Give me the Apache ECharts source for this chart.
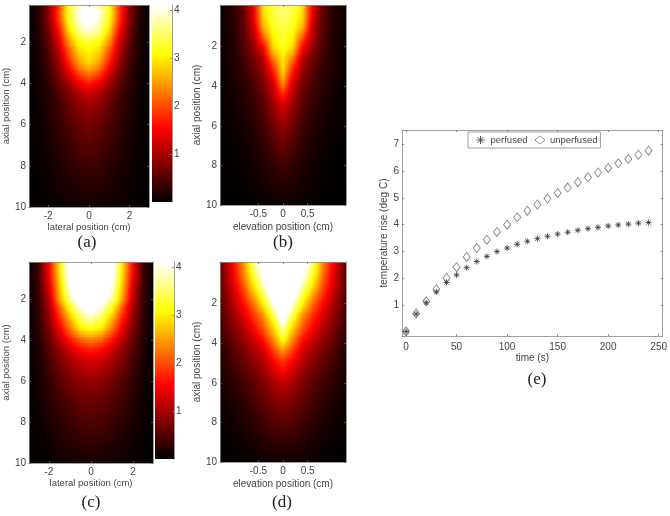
<!DOCTYPE html>
<html><head><meta charset="utf-8">
<style>html,body{margin:0;padding:0;background:#fff}#c{width:670px;height:516px;filter:blur(0.5px)}</style>
<script src="https://cdn.jsdelivr.net/npm/echarts@6/dist/echarts.min.js"></script>
</head><body><div id="c"></div>
<script>
// ---------- data ----------
const lateralPos = [-2.94,-2.5,-2,-1.5,-1,-0.5,0,0.5,1,1.5,2,2.5,2.94];
const elevationPos = [-1.28,-1,-0.8,-0.6,-0.4,-0.2,0,0.2,0.4,0.6,0.8,1,1.28];
const axialA = [0.2,0.5,1,1.5,2,2.5,3,3.5,4,4.5,5,6,7,8,9,10];
const axialB = [-0.1,0.5,1,1.5,2,2.5,3,3.5,4,4.5,5,6,7,8,9,10];
const heatA = [
[.03,.2,.75,1.8,3.2,3.8,4.0,3.8,3.2,1.8,.75,.2,.03],
[.03,.2,.8,1.9,3.2,4.0,4.3,4.0,3.2,1.9,.8,.2,.03],
[.03,.2,.75,1.8,3.1,3.9,4.3,3.9,3.1,1.8,.75,.2,.03],
[.03,.17,.65,1.5,2.8,3.6,3.9,3.6,2.8,1.5,.65,.17,.03],
[.03,.15,.55,1.25,2.4,3.1,3.3,3.1,2.4,1.25,.55,.15,.03],
[.03,.13,.45,1.05,2.0,2.8,3.0,2.8,2.0,1.05,.45,.13,.03],
[.03,.12,.4,.9,1.7,2.5,2.9,2.5,1.7,.9,.4,.12,.03],
[.03,.1,.33,.72,1.3,2.0,2.3,2.0,1.3,.72,.33,.1,.03],
[.02,.09,.28,.58,1.0,1.45,1.7,1.45,1.0,.58,.28,.09,.02],
[.02,.07,.22,.45,.75,1.05,1.25,1.05,.75,.45,.22,.07,.02],
[.02,.07,.2,.38,.62,.85,1.0,.85,.62,.38,.2,.07,.02],
[.02,.06,.16,.3,.47,.62,.72,.62,.47,.3,.16,.06,.02],
[.02,.05,.13,.23,.35,.46,.52,.46,.35,.23,.13,.05,.02],
[.01,.04,.1,.17,.26,.33,.38,.33,.26,.17,.1,.04,.01],
[.01,.03,.07,.12,.17,.22,.25,.22,.17,.12,.07,.03,.01],
[.01,.02,.04,.06,.08,.1,.12,.1,.08,.06,.04,.02,.01]];
const heatB = [
[.05,.25,.6,1.4,2.9,3.4,3.6,3.4,2.9,1.4,.6,.25,.05],
[.05,.25,.6,1.35,2.8,3.3,3.5,3.3,2.8,1.35,.6,.25,.05],
[.05,.24,.55,1.2,2.6,3.2,3.4,3.2,2.6,1.2,.55,.24,.05],
[.05,.22,.5,1.05,2.1,3.0,3.3,3.0,2.1,1.05,.5,.22,.05],
[.05,.22,.48,.88,1.55,2.85,3.2,2.85,1.55,.88,.48,.22,.05],
[.04,.2,.42,.72,1.2,2.4,3.0,2.4,1.2,.72,.42,.2,.04],
[.04,.18,.36,.6,.98,1.9,2.9,1.9,.98,.6,.36,.18,.04],
[.03,.16,.3,.5,.82,1.5,2.7,1.5,.82,.5,.3,.16,.03],
[.03,.14,.26,.42,.7,1.2,2.3,1.2,.7,.42,.26,.14,.03],
[.03,.12,.22,.36,.6,1.05,1.7,1.05,.6,.36,.22,.12,.03],
[.02,.1,.18,.3,.52,.9,1.3,.9,.52,.3,.18,.1,.02],
[.02,.07,.13,.22,.38,.65,.9,.65,.38,.22,.13,.07,.02],
[.01,.05,.09,.16,.28,.47,.62,.47,.28,.16,.09,.05,.01],
[.01,.03,.06,.12,.2,.3,.4,.3,.2,.12,.06,.03,.01],
[.01,.02,.04,.07,.12,.18,.22,.18,.12,.07,.04,.02,.01],
[0,.01,.02,.03,.05,.07,.08,.07,.05,.03,.02,.01,0]];
const heatC = [
[.06,.35,1.5,2.9,4.4,5.2,5.5,5.2,4.4,2.9,1.5,.35,.06],
[.06,.35,1.5,2.9,4.4,5.4,5.8,5.4,4.4,2.9,1.5,.35,.06],
[.06,.35,1.4,2.8,4.3,5.4,5.8,5.4,4.3,2.8,1.4,.35,.06],
[.06,.32,1.25,2.65,4.0,5.0,5.4,5.0,4.0,2.65,1.25,.32,.06],
[.06,.3,1.1,2.5,3.7,4.5,5.0,4.5,3.7,2.5,1.1,.3,.06],
[.05,.27,.95,2.0,3.1,3.9,4.3,3.9,3.1,2.0,.95,.27,.05],
[.05,.25,.85,1.7,2.6,3.4,3.75,3.4,2.6,1.7,.85,.25,.05],
[.05,.22,.72,1.4,2.2,2.9,3.1,2.9,2.2,1.4,.72,.22,.05],
[.05,.2,.6,1.1,1.65,2.1,2.3,2.1,1.65,1.1,.6,.2,.05],
[.04,.17,.5,.88,1.25,1.55,1.7,1.55,1.25,.88,.5,.17,.04],
[.04,.15,.42,.72,1.0,1.2,1.3,1.2,1.0,.72,.42,.15,.04],
[.03,.12,.3,.5,.7,.85,.9,.85,.7,.5,.3,.12,.03],
[.03,.09,.22,.37,.5,.6,.65,.6,.5,.37,.22,.09,.03],
[.02,.07,.16,.26,.35,.43,.48,.43,.35,.26,.16,.07,.02],
[.02,.05,.1,.17,.23,.28,.32,.28,.23,.17,.1,.05,.02],
[.01,.03,.05,.08,.1,.13,.15,.13,.1,.08,.05,.03,.01]];
const heatD = [
[.6,1.6,2.4,3.6,4.6,5,5.2,5,4.6,3.6,2.4,1.6,.6],
[.55,1.5,2.3,3.3,4.2,5,5.4,5,4.2,3.3,2.3,1.5,.55],
[.55,1.4,2.1,3.0,3.9,5,5.4,5,3.9,3.0,2.1,1.4,.55],
[.5,1.25,1.85,2.6,3.4,4.5,5.3,4.5,3.4,2.6,1.85,1.25,.5],
[.45,1.1,1.6,2.2,3.0,4.0,5.0,4.0,3.0,2.2,1.6,1.1,.45],
[.4,.95,1.4,1.9,2.5,3.5,4.6,3.5,2.5,1.9,1.4,.95,.4],
[.36,.85,1.2,1.65,2.2,3.0,4.1,3.0,2.2,1.65,1.2,.85,.36],
[.3,.72,1.0,1.4,1.9,2.6,3.5,2.6,1.9,1.4,1.0,.72,.3],
[.25,.6,.85,1.15,1.5,2.2,3.0,2.2,1.5,1.15,.85,.6,.25],
[.2,.5,.7,.95,1.25,1.8,2.3,1.8,1.25,.95,.7,.5,.2],
[.17,.42,.6,.8,1.05,1.45,1.8,1.45,1.05,.8,.6,.42,.17],
[.11,.28,.4,.55,.75,1.0,1.15,1.0,.75,.55,.4,.28,.11],
[.07,.18,.28,.4,.55,.72,.8,.72,.55,.4,.28,.18,.07],
[.04,.11,.18,.27,.38,.5,.55,.5,.38,.27,.18,.11,.04],
[.02,.05,.09,.15,.22,.28,.3,.28,.22,.15,.09,.05,.02],
[.01,.02,.03,.05,.07,.09,.1,.09,.07,.05,.03,.02,.01]];
const timeS = [0,10,20,30,40,50,60,70,80,90,100,110,120,130,140,150,160,170,180,190,200,210,220,230,240];
const perfused = [.03,.68,1.1,1.5,1.85,2.13,2.4,2.63,2.82,3.0,3.13,3.27,3.38,3.48,3.57,3.65,3.72,3.79,3.85,3.9,3.95,3.99,4.02,4.06,4.08];
const unperfused = [.03,.7,1.15,1.6,2.02,2.42,2.8,3.13,3.44,3.73,4.0,4.27,4.52,4.75,4.97,5.18,5.38,5.58,5.76,5.94,6.11,6.28,6.44,6.6,6.75];
const colorbarTicks = [1,2,3,4];
const colorMax = 4.1;
const captions = ['(a)','(b)','(c)','(d)','(e)'];

// ---------- drawing ----------
const clamp = v => Math.max(0, Math.min(1, v));
function hot(v){
  const t = clamp(v/colorMax);
  const r = Math.round(255*clamp(t/.375)), g = Math.round(255*clamp((t-.375)/.375)), b = Math.round(255*clamp((t-.75)/.25));
  return `rgb(${r},${g},${b})`;
}
const FONT = '"Liberation Sans"';
const txt = '#444', line = '#888';
function axes(i, cfg){
  const tickX = {show:true, inside:true, length:2, lineStyle:{color:'#666',width:.7}, customValues:cfg.xTicks};
  const tickY = {show:true, inside:true, length:2, lineStyle:{color:'#666',width:.7}, customValues:cfg.yTicks};
  return {
    x:[{gridIndex:i,type:'value',position:'bottom',min:cfg.x[0],max:cfg.x[1],z:5,splitLine:{show:false},
        axisLine:{show:true,onZero:false,lineStyle:{color:line,width:.8}},axisTick:tickX,
        axisLabel:{customValues:cfg.xTicks,hideOverlap:false,showMinLabel:true,showMaxLabel:true,color:txt,fontFamily:FONT,fontSize:10,margin:cfg.xMargin||4},
        name:cfg.xName,nameLocation:'middle',nameGap:cfg.xGap,nameTextStyle:{color:txt,fontFamily:FONT,fontSize:cfg.nameSize||9.5}},
       {gridIndex:i,type:'value',position:'top',min:cfg.x[0],max:cfg.x[1],z:5,splitLine:{show:false},
        axisLine:{show:true,onZero:false,lineStyle:{color:line,width:.8}},axisTick:tickX,axisLabel:{show:false}}],
    y:[{gridIndex:i,type:'value',position:'left',inverse:!!cfg.inverse,min:cfg.y[0],max:cfg.y[1],z:5,splitLine:{show:false},
        axisLine:{show:true,onZero:false,lineStyle:{color:line,width:.8}},axisTick:tickY,
        axisLabel:{customValues:cfg.yTicks,color:txt,fontFamily:FONT,fontSize:10,margin:cfg.yMargin||3},
        name:cfg.yName,nameLocation:'middle',nameGap:cfg.yGap,nameRotate:90,nameTextStyle:{color:txt,fontFamily:FONT,fontSize:cfg.nameSize||9.5}},
       {gridIndex:i,type:'value',position:'right',inverse:!!cfg.inverse,min:cfg.y[0],max:cfg.y[1],z:5,splitLine:{show:false},
        axisLine:{show:true,onZero:false,lineStyle:{color:line,width:.8}},axisTick:tickY,axisLabel:{show:false}}]
  };
}
// one image panel: horizontal gradient strips, colours taken from the read value table
function heatSeries(xi, yi, xPos, axial, table){
  const x0 = xPos[0], x1 = xPos[xPos.length-1];
  return {
    type:'custom', xAxisIndex:xi, yAxisIndex:yi, coordinateSystem:'cartesian2d', clip:true, silent:true, animation:false,
    data: axial.slice(0,-1).map((a,i)=>[a,axial[i+1],i]),
    renderItem(params, api){
      const i = api.value(2), top = api.value(0), bot = api.value(1);
      const pTop = api.coord([x0,top]), pBot = api.coord([x1,bot]);
      const h = pBot[1]-pTop[1], n = Math.max(1,Math.ceil(h/2)), kids = [];
      for(let s=0;s<n;s++){
        const t = (s+.5)/n, stops = [];
        for(let j=0;j<xPos.length-1;j++){
          const sub = 4;
          for(let k=0;k<=sub;k++){
            if(k===sub && j<xPos.length-2) continue;
            const u = k/sub;
            const a = table[i][j]+(table[i][j+1]-table[i][j])*u;
            const b = table[i+1][j]+(table[i+1][j+1]-table[i+1][j])*u;
            stops.push({offset:(xPos[j]+(xPos[j+1]-xPos[j])*u-x0)/(x1-x0), color:hot(a+(b-a)*t)});
          }
        }
        const yA = Math.round(pTop[1]+h*s/n), yB = Math.round(pTop[1]+h*(s+1)/n);
        kids.push({type:'rect',shape:{x:Math.round(pTop[0]),y:yA,width:Math.round(pBot[0])-Math.round(pTop[0]),height:yB-yA+1},
          style:{fill:new echarts.graphic.LinearGradient(0,0,1,0,stops)}});
      }
      return {type:'group',children:kids};
    }
  };
}
function barSeries(xi, yi){
  return {
    type:'custom', xAxisIndex:xi, yAxisIndex:yi, coordinateSystem:'cartesian2d', silent:true, animation:false,
    data:[[0,1,0,colorMax]],
    renderItem(params, api){
      const a = api.coord([api.value(0),api.value(3)]), b = api.coord([api.value(1),api.value(2)]);
      const stops = [0,1.5375,3.075,4.1].map(v=>({offset:1-v/colorMax,color:hot(v)}));
      return {type:'rect',shape:{x:a[0],y:a[1],width:b[0]-a[0],height:b[1]-a[1]},
        style:{fill:new echarts.graphic.LinearGradient(0,0,0,1,stops)}};
    }
  };
}
const panels = [
 {g:[26,5,123,202],  c:{x:[-2.94,2.95],xTicks:[-2,0,2],y:[0.2,10],yTicks:[2,4,6,8,10],inverse:true,xName:'lateral position (cm)',xGap:14,yName:'axial position (cm)',yGap:13}, xp:lateralPos,ax:axialA,t:heatA},
 {g:[220,5,126,200], c:{x:[-1.28,1.28],xTicks:[-0.5,0,0.5],y:[-0.1,10],yTicks:[2,4,6,8,10],inverse:true,xName:'elevation position (cm)',xGap:17,nameSize:10,yName:'axial position (cm)',yGap:13}, xp:elevationPos,ax:axialB,t:heatB},
 {g:[29,262,124,201],c:{x:[-2.94,2.95],xTicks:[-2,0,2],y:[0.2,10],yTicks:[2,4,6,8,10],inverse:true,xName:'lateral position (cm)',xGap:14,yName:'axial position (cm)',yGap:13}, xp:lateralPos,ax:axialA,t:heatC},
 {g:[220,262,126,200],c:{x:[-1.28,1.28],xTicks:[-0.5,0,0.5],y:[-0.1,10],yTicks:[2,4,6,8,10],inverse:true,xName:'elevation position (cm)',xGap:17,nameSize:10,yName:'axial position (cm)',yGap:13}, xp:elevationPos,ax:axialB,t:heatD}
];
const grid=[], xAxis=[], yAxis=[], series=[];
function addAxes(g,c){ const i=grid.length; grid.push({left:g[0],top:g[1],width:g[2],height:g[3]}); const a=axes(i,c); xAxis.push(...a.x); yAxis.push(...a.y); return [xAxis.length-2,yAxis.length-2]; }
panels.forEach(p=>{ const [xi,yi]=addAxes(p.g,p.c); series.push(heatSeries(xi,yi,p.xp,p.ax,p.t)); });
// colour bars
[[152,5,20,197],[155,262,19,197]].forEach(g=>{
  const i=grid.length; grid.push({left:g[0],top:g[1],width:g[2],height:g[3]});
  xAxis.push({gridIndex:i,type:'value',min:0,max:1,show:false});
  yAxis.push({gridIndex:i,type:'value',position:'right',min:0,max:colorMax,z:5,splitLine:{show:false},
    axisLine:{show:true,onZero:false,lineStyle:{color:'#999',width:1}},
    axisTick:{show:true,inside:true,length:2,customValues:colorbarTicks,lineStyle:{color:'#777',width:.7}},
    axisLabel:{customValues:colorbarTicks,color:txt,fontFamily:FONT,fontSize:10,margin:2}});
  series.push(barSeries(xAxis.length-1,yAxis.length-1));
});
// scatter panel
const [ex,ey]=addAxes([402,130,262,206],{x:[-4,254],xTicks:[0,50,100,150,200,250],y:[-0.14,7.52],yTicks:[1,2,3,4,5,6,7],xName:'time (s)',xGap:17,nameSize:10,xMargin:6,yName:'temperature rise (deg C)',yGap:5,yMargin:3});
const asterisk='path://M50 0L50 100M0 50L100 50M14 14L86 86M86 14L14 86';
series.push({name:'unperfused',type:'scatter',xAxisIndex:ex,yAxisIndex:ey,z:3,animation:false,symbol:'diamond',symbolSize:[7,9],
  data:timeS.map((t,i)=>[t,unperfused[i]]),itemStyle:{color:'#fff',borderColor:'#666',borderWidth:.9}});
series.push({name:'perfused',type:'scatter',xAxisIndex:ex,yAxisIndex:ey,z:4,animation:false,symbol:asterisk,symbolSize:6,
  data:timeS.map((t,i)=>[t,perfused[i]]),itemStyle:{color:'#333',borderColor:'#333',borderWidth:1}});
const capPos=[[87,243],[283,243],[91,503],[282,503],[537,380]];
const chart=echarts.init(document.getElementById('c'),null,{renderer:'canvas'});
chart.setOption({
  animation:false,backgroundColor:'#fff',grid,xAxis,yAxis,series,
  legend:{left:468,top:132,width:140,height:10,orient:'horizontal',padding:[3,3,3,8],itemGap:7,itemWidth:10,itemHeight:8,
    borderColor:'#888',borderWidth:.8,backgroundColor:'#fff',z:6,
    textStyle:{color:txt,fontFamily:FONT,fontSize:9.5,padding:[0,0,0,0]},
    data:[{name:'perfused',icon:asterisk,itemStyle:{color:'#333',borderColor:'#333',borderWidth:1}},
          {name:'unperfused',icon:'diamond',itemStyle:{color:'#fff',borderColor:'#666',borderWidth:.9}}]},
  graphic:captions.map((s,i)=>({type:'text',x:capPos[i][0],y:capPos[i][1],
    style:{text:s,font:'17px "Liberation Serif"',fill:'#222',align:'center',verticalAlign:'middle'}}))
});
</script></body></html>
